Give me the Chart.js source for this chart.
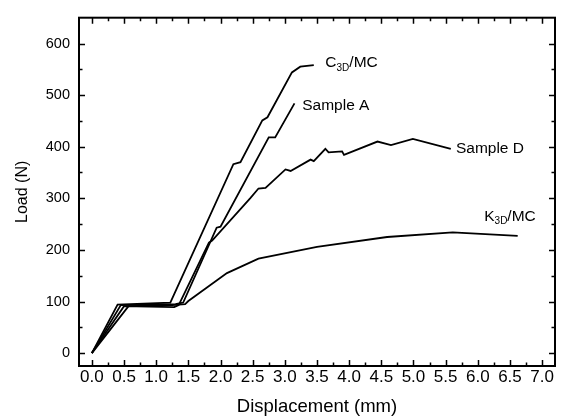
<!DOCTYPE html>
<html>
<head>
<meta charset="utf-8">
<script src="https://cdn.jsdelivr.net/npm/chart.js@4.4.1/dist/chart.umd.min.js"></script>
<style>
  html, body { margin: 0; padding: 0; background: #fff; }
</style>
</head>
<body>
<canvas id="loadChart" width="562" height="418"></canvas>
<script>
// displacement (mm) / load (N)
const c3dX = [0, 0.40, 1.22, 2.20, 2.31, 2.65, 2.73, 3.11, 3.24, 3.45];
const c3dY = [0, 94, 98, 366, 370, 451, 457, 544, 555, 558];

const sampleAX = [0, 0.45, 1.30, 1.42, 1.94, 2.00, 2.75, 2.85, 3.15];
const sampleAY = [0, 93, 95, 98, 243, 245, 418, 418, 484];

const sampleDX = [0, 0.50, 1.28, 1.35, 1.82, 1.87, 2.46, 2.59, 2.70, 3.01, 3.09, 3.40, 3.45, 3.63, 3.68, 3.89, 3.92, 4.44, 4.65, 4.99, 5.58];
const sampleDY = [0, 91, 89, 93, 214, 218, 300, 319, 320, 356, 353, 375, 372, 396, 389, 391, 384, 410, 403, 415, 396];

const k3dX = [0, 0.57, 1.25, 1.45, 1.50, 2.10, 2.59, 3.50, 4.59, 5.61, 6.62];
const k3dY = [0, 91, 93, 95, 101, 155, 183, 206, 225, 234, 227];

const xTicks = [0, 0.5, 1, 1.5, 2, 2.5, 3, 3.5, 4, 4.5, 5, 5.5, 6, 6.5, 7];
const yTicks = [0, 100, 200, 300, 400, 500, 600];

// curve labels: text parts (sub = subscript) and anchor in data units
const curveLabels = [
    { parts: [['C'], ['3D', true], ['/MC']], x: 3.63, y: 562 },
    { parts: [['Sample A']], x: 3.27, y: 480 },
    { parts: [['Sample D']], x: 5.66, y: 396 },
    { parts: [['K'], ['3D', true], ['/MC']], x: 6.10, y: 265 }
];

const FONT = '"Liberation Sans", Arial, sans-serif';

function toPoints(xs, ys) {
    return xs.map((x, i) => ({ x: x, y: ys[i] }));
}

function series(xs, ys) {
    return {
        data: toPoints(xs, ys),
        showLine: true,
        borderColor: '#000',
        borderWidth: 1.8,
        pointRadius: 0,
        tension: 0,
        fill: false
    };
}

// box, inward ticks on all four sides, curve labels
const framePlugin = {
    id: 'frame',
    afterDraw(chart) {
        const ctx = chart.ctx;
        const area = chart.chartArea;
        const xs = chart.scales.x;
        const ys = chart.scales.y;
        ctx.save();
        ctx.strokeStyle = '#000';
        ctx.lineWidth = 2;
        ctx.strokeRect(area.left, area.top, area.right - area.left, area.bottom - area.top);

        ctx.lineWidth = 1.5;
        ctx.beginPath();
        for (let v = 0; v <= 7.001; v += 0.25) {
            const px = Math.round(xs.getPixelForValue(v)) + 0.5;
            const len = Math.abs(v * 2 - Math.round(v * 2)) < 1e-6 ? 6 : 3.5;
            ctx.moveTo(px, area.bottom);
            ctx.lineTo(px, area.bottom - len);
            ctx.moveTo(px, area.top);
            ctx.lineTo(px, area.top + len);
        }
        for (let v = 0; v <= 600; v += 50) {
            const py = Math.round(ys.getPixelForValue(v)) + 0.5;
            const len = v % 100 === 0 ? 6 : 3.5;
            ctx.moveTo(area.left, py);
            ctx.lineTo(area.left + len, py);
            ctx.moveTo(area.right, py);
            ctx.lineTo(area.right - len, py);
        }
        ctx.stroke();

        ctx.fillStyle = '#000';
        ctx.textBaseline = 'middle';
        ctx.textAlign = 'left';
        curveLabels.forEach(lab => {
            let px = xs.getPixelForValue(lab.x);
            const py = ys.getPixelForValue(lab.y);
            lab.parts.forEach(p => {
                if (p[1]) {
                    ctx.font = '10px ' + FONT;
                    ctx.fillText(p[0], px, py + 5);
                } else {
                    ctx.font = '15.5px ' + FONT;
                    ctx.fillText(p[0], px, py);
                }
                px += ctx.measureText(p[0]).width;
            });
        });
        ctx.restore();
    }
};

new Chart(document.getElementById('loadChart').getContext('2d'), {
    type: 'scatter',
    data: {
        datasets: [
            series(c3dX, c3dY),
            series(sampleAX, sampleAY),
            series(sampleDX, sampleDY),
            series(k3dX, k3dY)
        ]
    },
    options: {
        responsive: false,
        animation: false,
        layout: { padding: { top: 13, right: 7, left: 0, bottom: 0 } },
        plugins: {
            legend: { display: false },
            tooltip: { enabled: false }
        },
        scales: {
            x: {
                type: 'linear',
                position: 'bottom',
                min: -0.2,
                max: 7.2,
                afterBuildTicks: function(scale) {
                    scale.ticks = xTicks.map(v => ({ value: v }));
                },
                afterFit: function(scale) { scale.height = 52; },
                grid: { display: false, drawTicks: false },
                border: { display: false },
                ticks: {
                    color: '#000',
                    padding: 1,
                    maxRotation: 0,
                    autoSkip: false,
                    font: { family: FONT, size: 17 },
                    callback: function(v) { return v.toFixed(1); }
                },
                title: {
                    display: true,
                    text: 'Displacement (mm)',
                    color: '#000',
                    font: { family: FONT, size: 18.5 },
                    padding: { top: 0, bottom: 0 }
                }
            },
            y: {
                type: 'linear',
                min: -25,
                max: 650,
                afterBuildTicks: function(scale) {
                    scale.ticks = yTicks.map(v => ({ value: v }));
                },
                afterFit: function(scale) { scale.width = 79; },
                grid: { display: false, drawTicks: false },
                border: { display: false },
                ticks: {
                    color: '#000',
                    padding: 9,
                    autoSkip: false,
                    font: { family: FONT, size: 14.5 }
                },
                title: {
                    display: true,
                    text: 'Load (N)',
                    color: '#000',
                    font: { family: FONT, size: 16 },
                    padding: { top: 13, bottom: 0 }
                }
            }
        }
    },
    plugins: [framePlugin]
});
</script>
</body>
</html>
